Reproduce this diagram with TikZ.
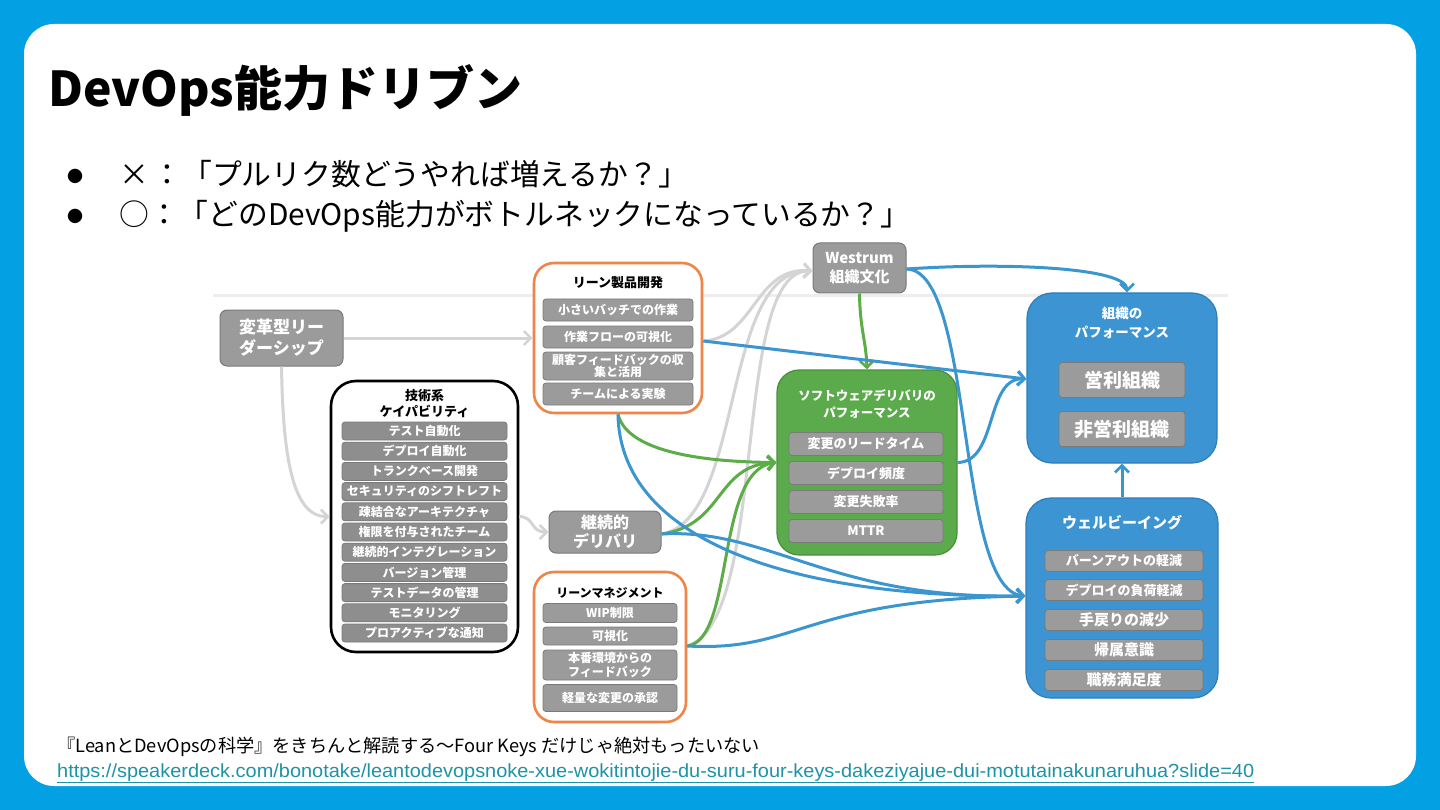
\documentclass[tikz,border=0pt]{standalone}
\usepackage{fontspec}
\setmainfont{Noto Sans CJK JP}
\newfontfamily\arialf{Liberation Sans}
\usetikzlibrary{arrows.meta,calc}
\definecolor{bgblue}{HTML}{03A0E4}
\definecolor{barfill}{HTML}{9B9B9B}
\definecolor{barline}{HTML}{7A7A7A}
\definecolor{darkbar}{HTML}{8E8E8E}
\definecolor{orangeline}{HTML}{EF8546}
\definecolor{greenfill}{HTML}{5BAA4B}
\definecolor{greenline}{HTML}{4A903C}
\definecolor{bluefill}{HTML}{3C94D2}
\definecolor{blueline}{HTML}{2E7EB8}
\definecolor{conblue}{HTML}{3B96D0}
\definecolor{congreen}{HTML}{5CAD48}
\definecolor{congrey}{HTML}{D4D4D4}
\definecolor{linkcol}{HTML}{1D93A6}
\newcommand\fsz[2]{\fontsize{#1pt}{#2pt}\selectfont}
\tikzset{
  bar/.style={rectangle, rounded corners=3pt, fill=barfill, draw=barline, line width=0.8pt,
    text=white, inner sep=0pt, align=center, font=\bfseries\fsz{12}{13}},
  graybox/.style={rectangle, rounded corners=7pt, fill=barfill, draw=barline, line width=1pt,
    text=white, inner sep=0pt, align=center},
  orangebox/.style={rectangle, rounded corners=20pt, draw=orangeline, line width=2.6pt, fill=white, inner sep=0pt},
  blackbox/.style={rectangle, rounded corners=25pt, draw=black, line width=2.6pt, fill=white, inner sep=0pt},
  greenbox/.style={rectangle, rounded corners=22pt, draw=greenline, line width=1.2pt, fill=greenfill, inner sep=0pt},
  bluebox/.style={rectangle, rounded corners=25pt, draw=blueline, line width=1.2pt, fill=bluefill, inner sep=0pt},
  boxtitle/.style={align=center, inner sep=0pt, font=\bfseries\fsz{13}{16}},
  con/.style={line width=3pt, -{Straight Barb[length=7pt,width=14pt,line width=2.6pt]}},
  cgrey/.style={con, draw=congrey},
  cgreen/.style={con, draw=congreen},
  cblue/.style={con, draw=conblue},
  txt/.style={inner sep=0pt, anchor=base west}
}
\begin{document}
\begin{tikzpicture}[x=1pt,y=-1pt]
\useasboundingbox (0,0) rectangle (1440,810);
\fill[bgblue] (0,0) rectangle (1440,810);
\fill[white, rounded corners=30pt] (24,24) rectangle (1416,786);

% title and bullets
\node[txt, font=\bfseries\fsz{48}{56}] (title) at (48,107) {DevOps能力ドリブン};
\node[inner sep=0pt, font=\fsz{16}{18}] (b1) at (75,176) {●};
\node[inner sep=0pt, font=\fsz{16}{18}] (b2) at (75,216) {●};
\node[txt, font=\fsz{29.8}{34}] (l1) at (119,186) {×\hspace{0.12em}：「プルリク数どうやれば増えるか？」};
\node[txt, font=\fsz{29.8}{34}] (l2) at (119,226) {○：「どのDevOps能力がボトルネックになっているか？」};

% faint line of the embedded figure
\draw[line width=3pt, draw=black!7] (213,296) -- (1228,296);

% ---- nodes ----
\node[graybox, minimum width=123, minimum height=56, font=\bfseries\fsz{17}{21}] (tl) at (281.5,338) {変革型リー\\ダーシップ};

\node[blackbox, minimum width=187, minimum height=271] (tech) at (424.5,516.5) {};
\node[boxtitle] (techt) at (424.5,404) {技術系\\ケイパビリティ};
\foreach \t [count=\i from 0] in {テスト自動化,デプロイ自動化,トランクベース開発,セキュリティのシフトレフト,疎結合なアーキテクチャ,権限を付与されたチーム,継続的インテグレーション,バージョン管理,テストデータの管理,モニタリング,プロアクティブな通知}
  \node[bar, fill=darkbar, minimum width=165, minimum height=18] (tc\i) at (424.5,{431+20.2*\i}) {\t};

\node[orangebox, minimum width=168, minimum height=150] (lpd) at (618,338) {};
\node[boxtitle] (lpdt) at (618,283) {リーン製品開発};
\node[bar, minimum width=150, minimum height=22] (lp1) at (618,310) {小さいバッチでの作業};
\node[bar, minimum width=150, minimum height=22] (lp2) at (618,337) {作業フローの可視化};
\node[bar, minimum width=150, minimum height=28, font=\bfseries\fsz{12}{12.5}] (lp3) at (618,366) {顧客フィードバックの収\\集と活用};
\node[bar, minimum width=150, minimum height=22] (lp4) at (618,394) {チームによる実験};

\node[graybox, minimum width=112, minimum height=42, font=\bfseries\fsz{16}{19}] (cd) at (605,532) {継続的\\デリバリ};

\node[orangebox, minimum width=152, minimum height=150] (lm) at (610,647) {};
\node[boxtitle, font=\bfseries\fsz{12}{15}] (lmt) at (610,593) {リーンマネジメント};
\node[bar, minimum width=134, minimum height=19] (lm1) at (610,613) {WIP制限};
\node[bar, minimum width=134, minimum height=18] (lm2) at (610,636) {可視化};
\node[bar, minimum width=134, minimum height=30, font=\bfseries\fsz{12}{14}] (lm3) at (610,665) {本番環境からの\\フィードバック};
\node[bar, minimum width=134, minimum height=27] (lm4) at (610,698) {軽量な変更の承認};

\node[graybox, minimum width=93, minimum height=50, font=\bfseries\fsz{15}{19}] (wes) at (859.5,268) {Westrum\\組織文化};

\node[greenbox, minimum width=180, minimum height=185] (sw) at (867,462.5) {};
\node[boxtitle, text=white, font=\bfseries\fsz{12.5}{17}] (swt) at (867,404) {ソフトウェアデリバリの\\パフォーマンス};
\node[bar, minimum width=154, minimum height=23, font=\bfseries\fsz{13}{14}] (sw1) at (866,444) {変更のリードタイム};
\node[bar, minimum width=154, minimum height=23, font=\bfseries\fsz{13}{14}] (sw2) at (866,473) {デプロイ頻度};
\node[bar, minimum width=154, minimum height=23, font=\bfseries\fsz{13}{14}] (sw3) at (866,502) {変更失敗率};
\node[bar, minimum width=154, minimum height=23, font=\bfseries\fsz{13}{14}] (sw4) at (866,531) {MTTR};

\node[bluebox, minimum width=190, minimum height=170] (org) at (1122,378) {};
\node[boxtitle, text=white, font=\bfseries\fsz{13.5}{19}] (orgt) at (1122,323) {組織の\\パフォーマンス};
\node[bar, minimum width=126, minimum height=35, font=\bfseries\fsz{19}{21}] (org1) at (1122,380) {営利組織};
\node[bar, minimum width=126, minimum height=35, font=\bfseries\fsz{19}{21}] (org2) at (1122,429) {非営利組織};

\node[bluebox, minimum width=192, minimum height=200] (wb) at (1122,598) {};
\node[boxtitle, text=white, font=\bfseries\fsz{15}{17}] (wbt) at (1122,523) {ウェルビーイング};
\node[bar, minimum width=158, minimum height=21, font=\bfseries\fsz{13}{14}] (wb1) at (1124,561) {バーンアウトの軽減};
\node[bar, minimum width=158, minimum height=21, font=\bfseries\fsz{13}{14}] (wb2) at (1124,590) {デプロイの負荷軽減};
\node[bar, minimum width=158, minimum height=21, font=\bfseries\fsz{15}{16}] (wb3) at (1124,620) {手戻りの減少};
\node[bar, minimum width=158, minimum height=21, font=\bfseries\fsz{15}{16}] (wb4) at (1124,650) {帰属意識};
\node[bar, minimum width=158, minimum height=21, font=\bfseries\fsz{15}{16}] (wb5) at (1124,680) {職務満足度};

% ---- connectors ----
% grey
\draw[cgrey] (tl.east) -- (lpd.west);
\draw[cgrey] (tl.south) .. controls (283,455) and (292,517) .. (tech.west);
\draw[cgrey] (tech.east) .. controls (535,517) and (530,532) .. (cd.west);
\draw[cgrey] ([yshift=-3pt]lpd.east) .. controls (755,338) and (755,266) .. ([yshift=-3pt]wes.west);
\draw[cgrey] ([yshift=-2pt]cd.east) .. controls (745,520) and (720,268) .. ([yshift=-3pt]wes.west);
\draw[cgrey] ([yshift=1pt]lm.east) .. controls (770,620) and (730,268) .. ([yshift=-3pt]wes.west);
% green
\draw[cgreen] (wes.south) .. controls (860,330) and (866,340) .. (sw.north);
\draw[cgreen] (lpd.south) .. controls (628,455) and (715,462) .. (sw.west);
\draw[cgreen] ([yshift=-2pt]cd.east) .. controls (725,525) and (715,465) .. (sw.west);
\draw[cgreen] ([yshift=1pt]lm.east) .. controls (735,640) and (715,470) .. (sw.west);
% blue
\draw[cblue] ([yshift=-3pt]lpd.east) -- ([yshift=-1pt]org.west);
\draw[cblue] (sw.east) .. controls (998,462) and (985,377) .. ([yshift=-1pt]org.west);
\draw[cblue] ([yshift=-1pt]wes.east) .. controls (1010,262) and (1127,268) .. ([xshift=5pt]org.north);
\draw[cblue] ([yshift=-1pt]wes.east) .. controls (975,270) and (955,590) .. ([yshift=2pt]wb.west);
\draw[cblue] (lpd.south) .. controls (620,540) and (790,598) .. ([yshift=2pt]wb.west);
\draw[cblue] ([yshift=-2pt]cd.east) .. controls (770,528) and (830,600) .. ([yshift=2pt]wb.west);
\draw[cblue] ([yshift=1pt]lm.east) .. controls (800,652) and (800,600) .. ([yshift=2pt]wb.west);
\draw[cblue] (wb.north) -- (org.south);

% footer
\node[txt, font=\fsz{18.2}{20}] (ref) at (57,752) {『LeanとDevOpsの科学』をきちんと解読する〜Four Keys だけじゃ絶対もったいない};
\node[txt, font=\arialf\fsz{19}{21}, text=linkcol] (link) at (57,777) {\scalebox{1.05}[1]{\underline{https://speakerdeck.com/bonotake/leantodevopsnoke-xue-wokitintojie-du-suru-four-keys-dakeziyajue-dui-motutainakunaruhua?slide=40}}};
\end{tikzpicture}
\end{document}
